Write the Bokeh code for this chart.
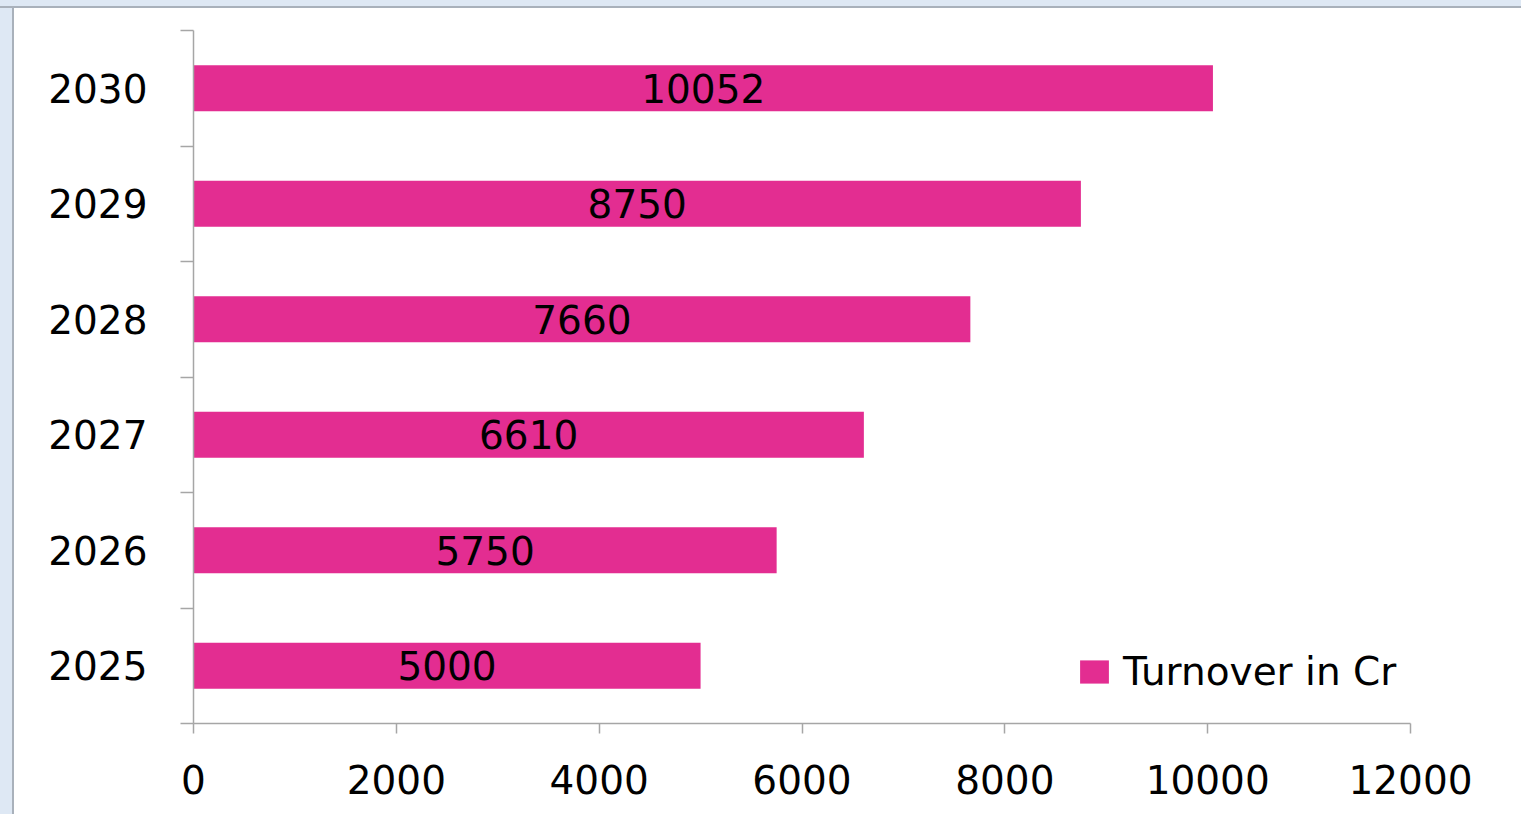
from bokeh.plotting import figure
from bokeh.models import ColumnDataSource, FixedTicker, Legend, LegendItem, Range1d
from bokeh.core.properties import value
from bokeh.embed import file_html
from bokeh.resources import INLINE

years = ["2025", "2026", "2027", "2028", "2029", "2030"]
turnover = [5000, 5750, 6610, 7660, 8750, 10052]
x_ticks = [0, 2000, 4000, 6000, 8000, 10000, 12000]
series_name = "Turnover in Cr"

FONT = "DejaVu Sans"
FS = "39px"
PINK = "#E32D91"
AXIS = "#A6A6A6"
SLIDE_BG = "#DEE8F4"
SLIDE_LINE = "#A9B1BB"

pos = [i + 0.5 for i in range(len(years))]
src = ColumnDataSource(dict(
    y=pos,
    right=turnover,
    mid=[v / 2 for v in turnover],
    lab=[str(v) for v in turnover],
))

p = figure(width=1521, height=814, output_backend="svg", toolbar_location=None,
           x_range=Range1d(0, 12000), y_range=Range1d(0, len(years)),
           min_border_left=193, min_border_right=111, min_border_top=30,
           min_border_bottom=91)
p.outline_line_color = None
p.xgrid.visible = False
p.ygrid.visible = False
p.background_fill_color = "white"
p.border_fill_alpha = 0
p.styles = {
    "background": (
        f"linear-gradient(to bottom, {SLIDE_BG} 0px, {SLIDE_BG} 6px, "
        f"{SLIDE_LINE} 6px, {SLIDE_LINE} 8px, transparent 8px), "
        f"linear-gradient(to right, {SLIDE_BG} 0px, {SLIDE_BG} 12px, "
        f"{SLIDE_LINE} 12px, {SLIDE_LINE} 14px, white 14px)"
    )
}

r = p.hbar(y="y", left=0, right="right", height=0.4, source=src,
           fill_color=PINK, line_color=None)
p.text(x="mid", y="y", text="lab", source=src, text_align="center",
       text_baseline="middle", text_font=value(FONT), text_font_size=FS,
       text_color="black")

# y axis
p.yaxis.ticker = FixedTicker(ticks=pos, minor_ticks=list(range(len(years) + 1)))
p.yaxis.major_label_overrides = {pp: y for pp, y in zip(pos, years)}
p.yaxis.major_tick_line_color = None
p.yaxis.major_tick_out = 0
p.yaxis.major_tick_in = 0
p.yaxis.minor_tick_out = 13
p.yaxis.minor_tick_in = 0
p.yaxis.minor_tick_line_color = AXIS
p.yaxis.minor_tick_line_width = 1.5
p.yaxis.axis_line_color = AXIS
p.yaxis.axis_line_width = 1.5
p.yaxis.major_label_text_font = FONT
p.yaxis.major_label_text_font_size = FS
p.yaxis.major_label_text_color = "black"
p.yaxis.major_label_standoff = 33

# x axis
p.xaxis.ticker = FixedTicker(ticks=x_ticks, minor_ticks=[])
p.xaxis.major_tick_out = 10
p.xaxis.major_tick_in = 0
p.xaxis.major_tick_line_color = AXIS
p.xaxis.major_tick_line_width = 1.5
p.xaxis.axis_line_color = AXIS
p.xaxis.axis_line_width = 1.5
p.xaxis.major_label_text_font = FONT
p.xaxis.major_label_text_font_size = FS
p.xaxis.major_label_text_color = "black"
p.xaxis.major_label_standoff = 31

legend = Legend(items=[LegendItem(label=series_name, renderers=[r])],
                location=(883, 29), orientation="vertical",
                background_fill_alpha=0, border_line_color=None,
                padding=0, margin=0, glyph_width=36, glyph_height=29,
                label_text_font=FONT, label_text_font_size=FS,
                label_text_color="black",
                label_standoff=11, label_height=30)
p.add_layout(legend, "center")

open("out.html", "w").write(file_html(p, INLINE))
